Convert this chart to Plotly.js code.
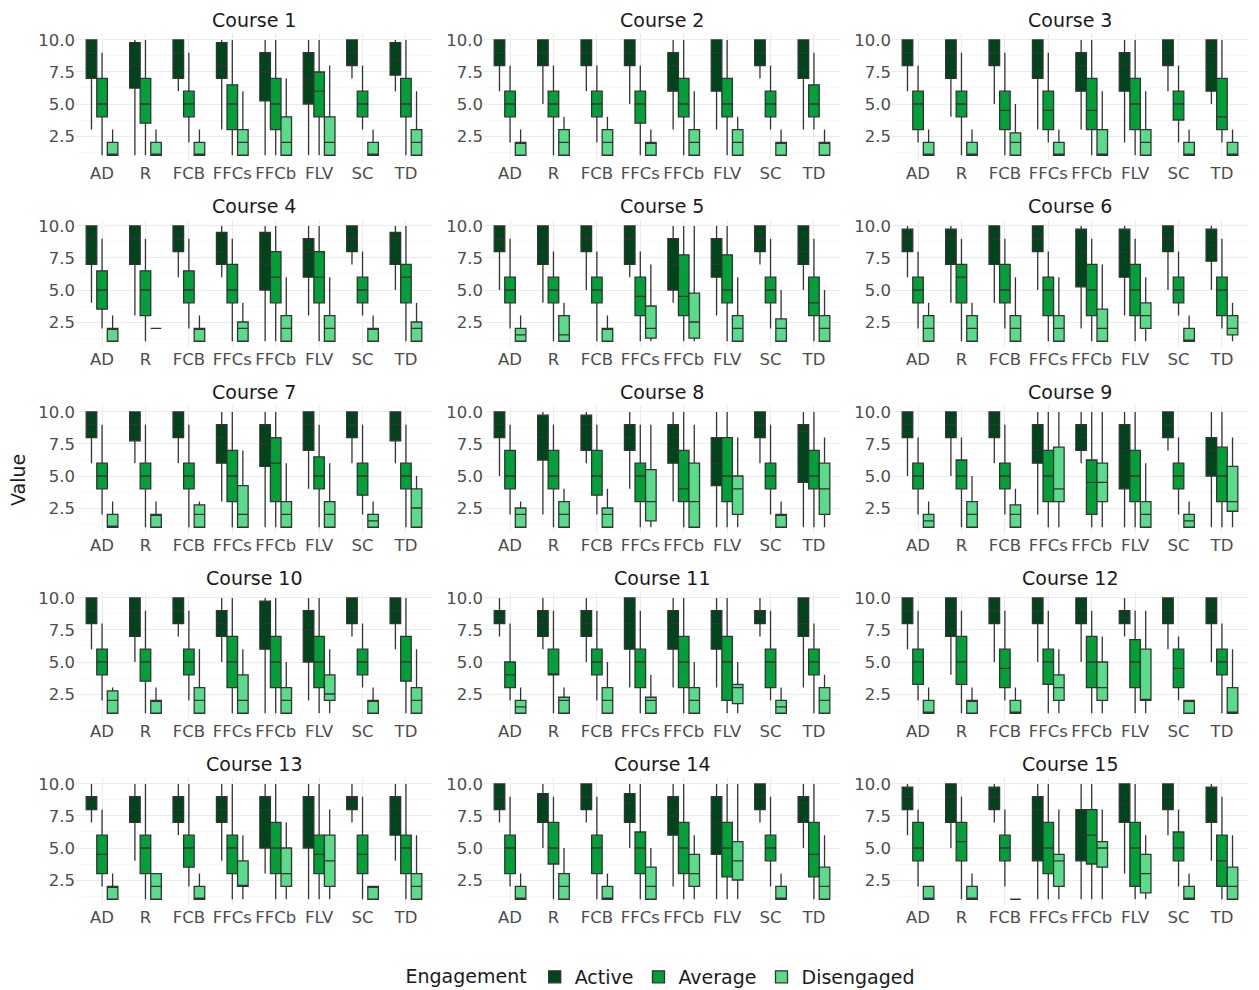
<!DOCTYPE html>
<html>
<head>
<meta charset="utf-8">
<script src="https://cdn.plot.ly/plotly-3.0.1.min.js"></script>
<style>html,body{margin:0;padding:0;background:#fff;}#chart{width:1259px;height:990px;}</style>
</head>
<body>
<div id="chart"></div>
<script>
const categories = ['AD','R','FCB','FFCs','FFCb','FLV','SC','TD'];
const engagement = ['Active','Average','Disengaged'];
const courseNames = ['Course 1','Course 2','Course 3','Course 4','Course 5','Course 6','Course 7','Course 8','Course 9','Course 10','Course 11','Course 12','Course 13','Course 14','Course 15'];
const yTickVals = [2.5,5,7.5,10];
const yTickText = ['2.5','5.0','7.5','10.0'];
const yMinorVals = [1.25,3.75,6.25,8.75];

// each entry per category: [lower whisker, Q1, median, Q3, upper whisker]
const c1Active = [[3,7,9,10,10],[1,6.25,8,9.8,10],[6,7,9,10,10],[3,7,8,9.8,10],[1,5.25,7.5,9,10],[1,5,7,9,10],[7,8,9,10,10],[6,7.25,8.5,9.8,10]];
const c1Average = [[1,4,5,7,9],[1,3.5,5,7,10],[2,4,5,6,9],[1,3,5,6.5,10],[1,3,5,7,10],[1,4,6,7.5,10],[3,4,5,6,8],[1,4,5,7,10]];
const c1Disengaged = [[1,1,1,2,3],[1,1,1,2,3],[1,1,1,2,3],[1,1,2,3,6],[1,1,2,4,7],[1,1,2,4,8],[1,1,1,2,3],[1,1,2,3,6]];

const c2Active = [[6,8,9,10,10],[5,8,9,10,10],[6,8,9,10,10],[5,8,9,10,10],[3,6,8,9,10],[3,6,9,10,10],[7,8,9,10,10],[3,7,9,10,10]];
const c2Average = [[2,4,5,6,8],[1,4,5,6,8],[2,4,5,6,8],[1,3.5,5,6,8],[1,4,5,7,10],[1,4,5,7,10],[3,4,5,6,8],[3,4,5,6.5,9]];
const c2Disengaged = [[1,1,2,2,3],[1,1,2,3,4],[1,1,2,3,4],[1,1,2,2,3],[1,1,2,3,6],[1,1,2,3,4],[1,1,2,2,3],[1,1,2,2,3]];

const c3Active = [[6,8,9,10,10],[4,7,9,10,10],[5,8,9,10,10],[3,7,9,10,10],[3,6,8,9,10],[2,6,8,9,10],[6,8,9,10,10],[5,6,9,10,10]];
const c3Average = [[2,3,5,6,8],[1,4,5,6,9],[1,3,4.5,6,9],[2,3,4.5,6,9],[1,3,4.5,7,10],[1,3,5,7,10],[2,3.75,5,6,8],[2,3,4,7,10]];
const c3Disengaged = [[1,1,1,2,3],[1,1,1,2,3],[1,1,2,2.75,5],[1,1,1,2,3],[1,1,1,3,6],[1,1,2,3,6],[1,1,1,2,3],[1,1,1,2,3]];

const c4Active = [[4,7,9,10,10],[3,7,9,10,10],[6,8,9,10,10],[6,7,8,9.5,10],[1,5,7,9.5,10],[3,6,8,9,10],[7,8,9,10,10],[5,7,9,9.5,10]];
const c4Average = [[2,3.5,5,6.5,9],[1,3,5,6.5,9],[2,4,5,6.5,9],[1,4,5,7,9],[1,4,6,8,10],[1,4,6,8,10],[3,4,5,6,8],[1,4,6,7,10]];
const c4Disengaged = [[1,1,2,2,3],[2,2,2,2,2],[1,1,2,2,3],[1,1,2,2.5,4],[1,1,2,3,6],[1,1,2,3,6],[1,1,2,2,3],[1,1,2,2.5,4]];

const c5Active = [[5,8,9,10,10],[4,7,8,10,10],[5,8,9,10,10],[6,7,9,10,10],[4,5,7,9,10],[3,6,7,9,10],[7,8,9,10,10],[5,7,8,10,10]];
const c5Average = [[2,4,5,6,9],[1,4,5,6,8],[1,4,5,6,8],[1,3,4.5,6,8],[1,3,4.5,7.75,10],[1,4,5,7.75,10],[2,4,5,6,9],[1,3,4,6,9]];
const c5Disengaged = [[1,1,1.5,2,3],[1,1,1.5,3,4],[1,1,2,2,3],[1,1.25,2,3.75,7],[1,1.25,2.5,4.75,10],[1,1,2,3,6],[1,1,2,2.75,5],[1,1,2,3,5]];

const c6Active = [[6,8,9,9.75,10],[4,7,9,9.75,10],[4,7,9,10,10],[5,8,9,10,10],[2,5.25,8,9.75,10],[3,6,8,9.75,10],[5,8,9,10,10],[5,7.25,8.5,9.75,10]];
const c6Average = [[2,4,5,6,8],[1,4,6,7,9],[2,4,5,7,9],[1,3,5,6,8],[1,3,5,7,9],[1,3,5,7,9],[3,4,5,6,8],[2,3,5,6,9]];
const c6Disengaged = [[1,1,2,3,4],[1,1,2,3,4],[1,1,2,3,6],[1,1,2,3,6],[1,1,2,3.5,7],[1,2,3,4,6],[1,1,1,2,3],[1,1.5,2,3,4]];

const c7Active = [[6,8,9,10,10],[6,7.75,9,10,10],[6,8,8.5,10,10],[3,6,8,9,10],[1,5.75,7.5,9,10],[4,7,9,10,10],[6,8,9,10,10],[6,7.75,9,10,10]];
const c7Average = [[2,4,5,6,9],[1,4,5,6,9],[1,4,5,6,9],[1,3,5,7,10],[1,3,6,8,10],[1,4,5,6.5,9],[2,3.5,5,6,9],[1,4,5,6,9]];
const c7Disengaged = [[1,1,1,2,3],[1,1,2,2,3],[1,1,2,2.75,3],[1,1,2,4.25,7],[1,1,2,3,6],[1,1,2,3,6],[1,1,1.5,2,3],[1,1,2.5,4,5]];

const c8Active = [[5,8,9,10,10],[2,6.25,8,9.75,10],[6,7,9,9.75,10],[4,7,8,9,10],[3,6,8,9,10],[1,4.25,6,8,10],[6,8,9,10,10],[1,4.5,8.5,9,10]];
const c8Average = [[2,4,5,7,9],[1,4,5,7,9],[2,3.5,5,7,9],[1,3,5,6,9],[1,3,4,7,10],[1,3,5,8,10],[2,4,5,6,9],[1,4,5,7,10]];
const c8Disengaged = [[1,1,2,2.5,3],[1,1,2,3,4],[1,1,2,2.5,4],[1,1.5,3,5.5,9],[1,1,3,6,9],[1,2,4,5,8],[1,1,2,2,3],[1,2,4,6,8]];

const c9Active = [[5,8,9,10,10],[5,8,9,10,10],[6,8,9,10,10],[2,6,7,9,10],[6,7,8,9,10],[1,4,7,9,10],[7,8,9,10,10],[1,5,7,8,10]];
const c9Average = [[2,4,5,6,8],[1,4,5,6.25,8],[2,4,5,6,9],[1,3,5,7,10],[1,2,4.5,6.25,10],[1,3,5,7,10],[2,4,5,6,8],[1,3,5,7.25,10]];
const c9Disengaged = [[1,1,1.5,2,3],[1,1,2,3,5],[1,1,2,2.75,4],[1,3,4,7.25,10],[1,3,4.5,6,10],[1,1,2,3,6],[1,1,1.5,2,3],[1,2.25,3,5.75,8]];

const c10Active = [[6,8,9,10,10],[5,7,9,10,10],[7,8,9,10,10],[5,7,8,9,10],[1,6,8,9.75,10],[2,5,7.5,9,10],[7,8,9,10,10],[6,8,9,10,10]];
const c10Average = [[2,4,5,6,8],[1,3.5,5,6,9],[2,4,5,6,9],[1,3,5,7,10],[1,3,5,7,10],[1,3,5,7,10],[3,4,5,6,8],[1,3.5,5,7,10]];
const c10Disengaged = [[1,1,2,2.75,3],[1,1,2,2,3],[1,1,2,3,6],[1,1,2,4,6],[1,1,2,3,5],[1,2,2.5,4,6],[1,1,2,2,3],[1,1,2,3,6]];

const c11Active = [[7,8,8.5,9,10],[6,7,8,9,10],[5,7,8,9,10],[3,6,8,10,10],[3,6,8,9,10],[3,6,8,9,10],[7,8,8.5,9,10],[3,7,8,10,10]];
const c11Average = [[2,3,4,5,8],[1,4,4,6,9],[2,4,5,6,9],[1,3,5,6,9],[1,3,5,7,10],[1,2,5,7,10],[2,3,5,6,9],[1,4,5,6,8]];
const c11Disengaged = [[1,1,1.5,2,3],[1,1,2,2.25,3],[1,1,2,3,5],[1,1,2,2.25,4],[1,1,2,3,5],[1,1.75,3,3.25,5],[1,1,1.5,2,3],[1,1,2,3,4]];

const c12Active = [[6,8,9,10,10],[4,7,9,10,10],[5,8,9,10,10],[5,8,9,10,10],[5,8,9,10,10],[7,8,8.5,9,10],[6,8,9,10,10],[5,8,9,10,10]];
const c12Average = [[2,3.25,5,6,9],[1,3.25,5,7,9],[2,3,4.5,6,9],[1,3.25,5,6,9],[1,3,5,7,9],[1,3,5,6.75,9],[2,3,4.5,6,7],[1,4,5,6,8]];
const c12Disengaged = [[1,1,1,2,3],[1,1,2,2,3],[1,1,1,2,3],[1,2,3,4,6],[1,2,3,5,7],[1,2,2,6,9],[1,1,2,2,2],[1,1,1,3,6]];

const c13Active = [[7,8,9,9,10],[4,7,8,9,10],[6,7,8,9,10],[4,7,8,9,10],[3,5,8,9,10],[1,5,8,9,10],[7,8,9,9,10],[4,6,8,9,10]];
const c13Average = [[2,3,4.5,6,8],[1,3,5,6,10],[2,3.5,5,6,10],[1,3,5,6,10],[1,3,5,7,10],[1,3,4.5,6,10],[1,3,4.5,6,9],[1,3,5,6,10]];
const c13Disengaged = [[1,1,2,2,3],[1,1,2,3,3],[1,1,1,2,3],[1,2,2,4,6],[1,2,3,5,7],[1,2,4,6,8],[1,1,2,2,2],[1,1,2,3,6]];

const c14Active = [[7,8,9,10,10],[5,7,9,9.25,10],[7,8,9,10,10],[5,7,8.5,9.25,10],[2,6,7.5,9,10],[1,4.5,7,9,10],[7,8,9,10,10],[5,7,8.5,9,10]];
const c14Average = [[2,3,5,6,9],[1,3.75,5,7,9],[1,3,5,6,9],[1,3,5,6.25,10],[1,3,5,7,10],[1,2.75,5,7,10],[2,4,5,6,9],[1,2.75,4.5,7,10]];
const c14Disengaged = [[1,1,1,2,3],[1,1,2,3,5],[1,1,1,2,3],[1,1,2,3.5,5],[1,2,3,4.5,6],[1,2.5,4,5.5,10],[1,1,1,2,3],[1,1,2,3.5,6]];

const c15Active = [[6,8,9,9.75,10],[5,7,9,10,10],[7,8,9,9.75,10],[1,4,8,9,10],[1,4,6,8,10],[3,7,8.5,10,10],[6,8,9,10,10],[4,7,8,9.75,10]];
const c15Average = [[2,4,5,7,8],[1,4,5.5,7,9],[2,4,5,6,8],[1,3,5,7,10],[1,3.75,6,8,10],[1,2,5,7,10],[2,4,5,6.25,8],[1,2,4,6,9]];
const c15Disengaged = [[1,1,1,2,2],[1,1,1,2,3],[1,1,1,1,1],[1,2,4,4.5,8],[1,3.5,5,5.5,8],[1,1.5,3,4.5,6],[1,1,1,2,3],[1,1,2,3.5,6]];

const courseData = [
  [c1Active,c1Average,c1Disengaged],[c2Active,c2Average,c2Disengaged],[c3Active,c3Average,c3Disengaged],
  [c4Active,c4Average,c4Disengaged],[c5Active,c5Average,c5Disengaged],[c6Active,c6Average,c6Disengaged],
  [c7Active,c7Average,c7Disengaged],[c8Active,c8Average,c8Disengaged],[c9Active,c9Average,c9Disengaged],
  [c10Active,c10Average,c10Disengaged],[c11Active,c11Average,c11Disengaged],[c12Active,c12Average,c12Disengaged],
  [c13Active,c13Average,c13Disengaged],[c14Active,c14Average,c14Disengaged],[c15Active,c15Average,c15Disengaged]
];

const fills = ['#00441b','#03a03a','#5adb8a'];
const W = 1259, H = 990;
const colLeft = [76, 484, 892];
const plotW = 356;
const rowTop = 34.2, rowBottom = 161, rowStep = 186;
const FONT = 'DejaVu Sans, Liberation Sans, sans-serif';

const traces = [];
const layout = {
  width: W, height: H,
  margin: {l:0, r:0, t:0, b:0, autoexpand:false},
  paper_bgcolor: '#ffffff', plot_bgcolor: '#ffffff',
  font: {family: FONT, color: '#4d4d4d'},
  boxmode: 'group', boxgap: 0.27, boxgroupgap: 0,
  showlegend: true,
  legend: {orientation:'h', x:662/W, xanchor:'center', y:1-977/H, yanchor:'middle',
           font:{size:19, color:'#1a1a1a', family:FONT},
           title:{text:'Engagement', side:'left', font:{size:19, color:'#1a1a1a', family:FONT}},
           itemwidth:30, tracegroupgap:0},
  annotations: []
};

courseData.forEach((groups, i) => {
  const row = Math.floor(i/3), col = i % 3;
  const sfx = i === 0 ? '' : String(i+1);
  const xa = 'xaxis' + sfx, ya = 'yaxis' + sfx;
  const x0 = colLeft[col], top = rowTop + row*rowStep, bot = rowBottom + row*rowStep;
  layout[xa] = {
    domain: [x0/W, (x0+plotW)/W], anchor: 'y'+sfx,
    type: 'category', categoryorder: 'array', categoryarray: categories,
    range: [-0.6, 7.6], showgrid: true, gridcolor: '#ebebeb', gridwidth: 1,
    zeroline: false, showline: false, ticks: '',
    tickfont: {size: 16.5, color: '#4d4d4d', family: FONT}, fixedrange: true
  };
  layout[ya] = {
    domain: [1 - bot/H, 1 - top/H], anchor: 'x'+sfx,
    range: [0.55, 10.45], tickmode: 'array', tickvals: yTickVals, ticktext: yTickText,
    showgrid: true, gridcolor: '#ebebeb', gridwidth: 1,
    minor: {tickmode: 'array', tickvals: yMinorVals, showgrid: true, gridcolor: '#f4f4f4', gridwidth: 0.6, ticks: ''},
    zeroline: false, showline: false, ticks: '',
    tickfont: {size: 16.5, color: '#4d4d4d', family: FONT}, fixedrange: true
  };
  groups.forEach((stats, g) => {
    traces.push({
      type: 'box', name: engagement[g], legendgroup: engagement[g], showlegend: i === 0,
      xaxis: 'x'+sfx, yaxis: 'y'+sfx,
      alignmentgroup: 'course' + i, offsetgroup: engagement[g],
      x: categories,
      lowerfence: stats.map(s => s[0]), q1: stats.map(s => s[1]), median: stats.map(s => s[2]),
      q3: stats.map(s => s[3]), upperfence: stats.map(s => s[4]),
      fillcolor: fills[g], line: {color: '#333333', width: 1.3},
      whiskerwidth: 0, boxpoints: false, hoverinfo: 'skip'
    });
  });
  layout.annotations.push({
    text: courseNames[i], xref: 'paper', yref: 'paper',
    x: (x0 + plotW/2)/W, y: 1 - (20 + row*rowStep)/H, xanchor: 'center', yanchor: 'middle',
    showarrow: false, font: {size: 19, color: '#1a1a1a', family: FONT}
  });
});

layout.annotations.push({
  text: 'Value', xref: 'paper', yref: 'paper', x: 18/W, y: 1 - 480/H,
  xanchor: 'center', yanchor: 'middle', textangle: -90, showarrow: false,
  font: {size: 19, color: '#1a1a1a', family: FONT}
});

Plotly.newPlot('chart', traces, layout, {displayModeBar: false, staticPlot: true});
</script>
</body>
</html>
